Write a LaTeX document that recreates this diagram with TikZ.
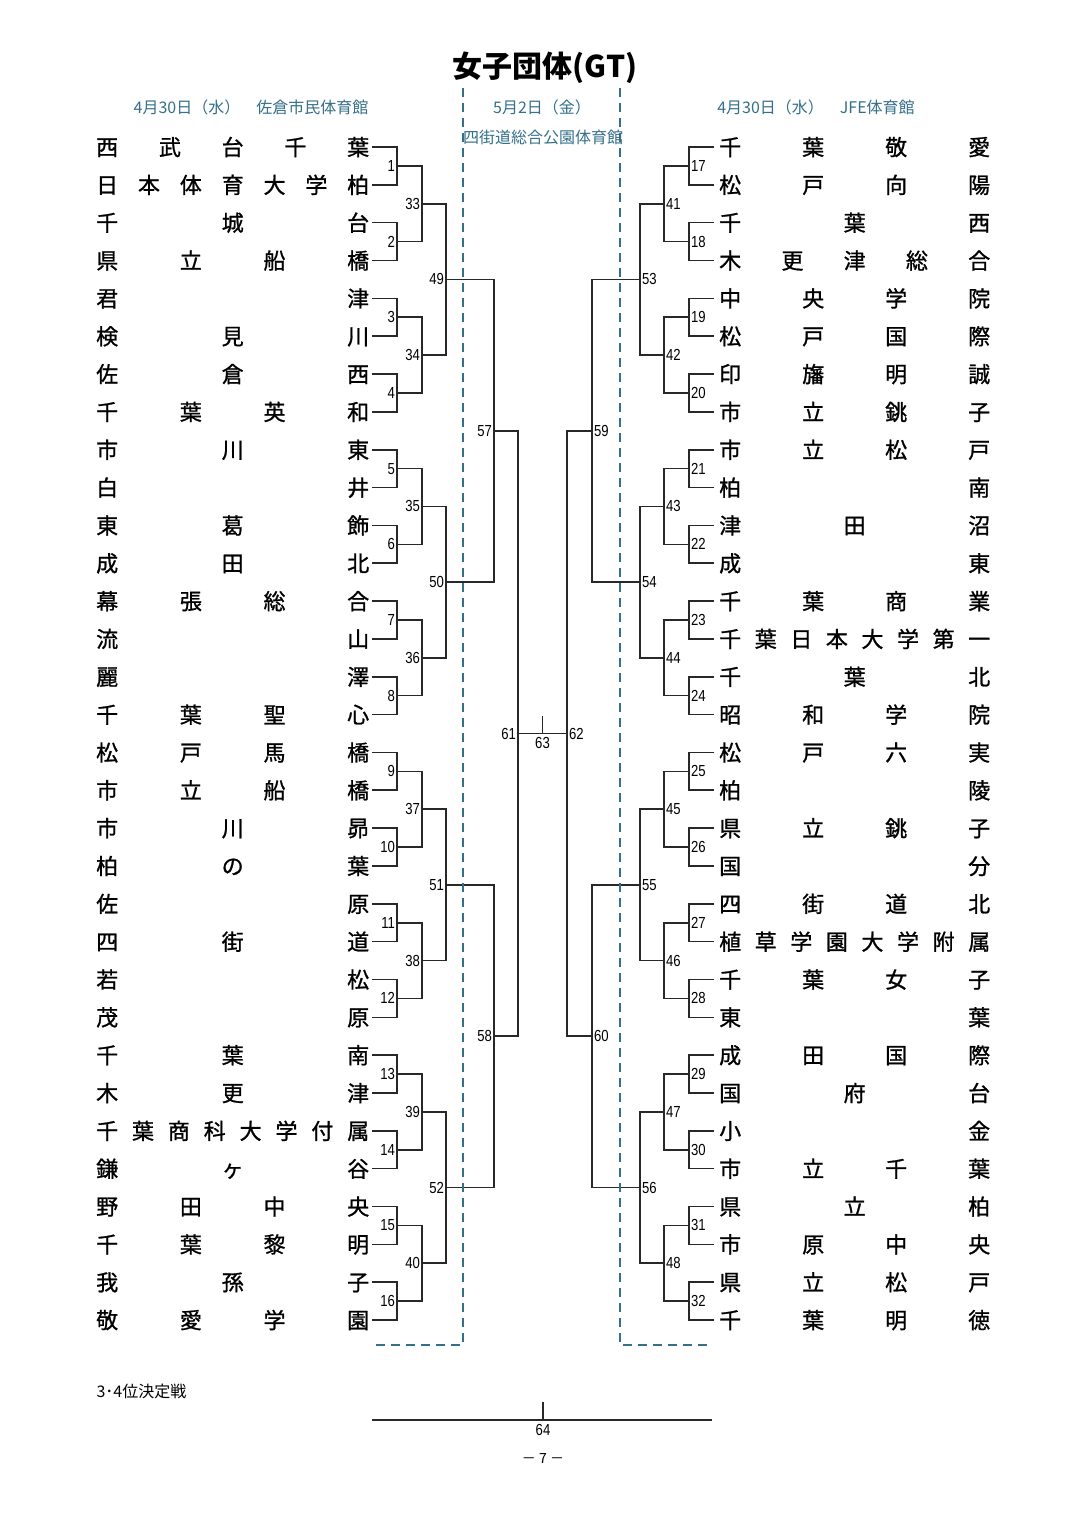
\documentclass[tikz,border=0pt]{standalone}
\usepackage{fontspec}
\setmainfont{Noto Sans CJK JP}
\newfontfamily\teamfont{Noto Sans CJK JP}[FakeBold=1]
\newfontfamily\numfont{Liberation Sans}[FakeStretch=0.82]
\usetikzlibrary{calc}

\definecolor{venue}{RGB}{52,112,138}
\definecolor{bracket}{RGB}{40,40,40}

\tikzset{
  team/.style={inner sep=0pt, anchor=west, text height=19.4pt, text depth=2.6pt,
               font=\teamfont\fontsize{22}{22}\selectfont},
  num/.style={inner sep=1.8pt, font=\numfont\fontsize{16}{16}\selectfont},
  venuetext/.style={text=venue, inner sep=0pt, font=\fontsize{16}{16}\selectfont},
  link/.style={draw=bracket, line width=1.6pt},
  period/.style={draw=venue, line width=2.3pt, dash pattern=on 9pt off 6pt},
}

% one team name, spread over the whole name column
\newcommand\teamrow[2]{\makebox[#1][s]{\spaceskip=0pt plus 1fil\xspaceskip=0pt plus 1fil\relax #2}}

% one round of the draw: first, last, first child, x step, label side
\newcommand\bracketround[5]{%
  \foreach \k [evaluate=\k as \lo using {int(#3+2*(\k-#1))}] in {#1,...,#2} {
    \pgfmathtruncatemacro\hi{\lo+1}
    \coordinate (m\k) at ($(m\lo)!.5!(m\hi)+(#4,0)$);
    \draw[link] (m\lo) -| (m\k) |- (m\hi);
    \node[num, anchor=#5] (n\k) at (m\k) {\k};
  }}

\begin{document}
\begin{tikzpicture}[x=1pt, y=-1pt]
  \useasboundingbox[fill=white] (0,0) rectangle (1087,1536);

  \node[font=\bfseries\fontsize{30}{30}\selectfont] (title) at (545,68) {女子団体(GT)};
  \node[venuetext] (dayL)  at (251,107) {4月30日（水）　佐倉市民体育館};
  \node[venuetext] (dayC)  at (542,107) {5月2日（金）};
  \node[venuetext] (hallC) at (543,137) {四街道総合公園体育館};
  \node[venuetext] (dayR)  at (816,107) {4月30日（水）　JFE体育館};

  % left half
  \foreach \nm [count=\i] in {西 武 台 千 葉, 日 本 体 育 大 学 柏, 千 城 台, 県 立 船 橋,
      君 津, 検 見 川, 佐 倉 西, 千 葉 英 和, 市 川 東, 白 井, 東 葛 飾, 成 田 北,
      幕 張 総 合, 流 山, 麗 澤, 千 葉 聖 心, 松 戸 馬 橋, 市 立 船 橋, 市 川 昴, 柏 の 葉,
      佐 原, 四 街 道, 若 松, 茂 原, 千 葉 南, 木 更 津, 千 葉 商 科 大 学 付 属, 鎌 ヶ 谷,
      野 田 中 央, 千 葉 黎 明, 我 孫 子, 敬 愛 学 園} {
    \node[team] (lt\i) at (96,{147+(\i-1)*37.84}) {\teamrow{273pt}{\nm}};
    \coordinate (ls\i) at (372,{147+(\i-1)*37.84});
  }
  \foreach \k [evaluate=\k as \lo using {int(2*\k-1)}] in {1,...,16} {
    \pgfmathtruncatemacro\hi{\lo+1}
    \coordinate (m\k) at ($(ls\lo)!.5!(ls\hi)+(25,0)$);
    \draw[link] (ls\lo) -| (m\k) |- (ls\hi);
    \node[num, anchor=east] (n\k) at (m\k) {\k};
  }
  \bracketround{33}{40}{1}{25}{east}
  \bracketround{49}{52}{33}{24}{east}
  \bracketround{57}{58}{49}{48}{east}
  \bracketround{61}{61}{57}{24}{east}

  % right half
  \foreach \nm [count=\i] in {千 葉 敬 愛, 松 戸 向 陽, 千 葉 西, 木 更 津 総 合,
      中 央 学 院, 松 戸 国 際, 印 旛 明 誠, 市 立 銚 子, 市 立 松 戸, 柏 南, 津 田 沼, 成 東,
      千 葉 商 業, 千 葉 日 本 大 学 第 一, 千 葉 北, 昭 和 学 院, 松 戸 六 実, 柏 陵,
      県 立 銚 子, 国 分, 四 街 道 北, 植 草 学 園 大 学 附 属, 千 葉 女 子, 東 葉,
      成 田 国 際, 国 府 台, 小 金, 市 立 千 葉, 県 立 柏, 市 原 中 央, 県 立 松 戸, 千 葉 明 徳} {
    \node[team] (rt\i) at (719,{147+(\i-1)*37.84}) {\teamrow{271pt}{\nm}};
    \coordinate (rs\i) at (714,{147+(\i-1)*37.84});
  }
  \foreach \k [evaluate=\k as \lo using {int(2*\k-33)}] in {17,...,32} {
    \pgfmathtruncatemacro\hi{\lo+1}
    \coordinate (m\k) at ($(rs\lo)!.5!(rs\hi)+(-25,0)$);
    \draw[link] (rs\lo) -| (m\k) |- (rs\hi);
    \node[num, anchor=west] (n\k) at (m\k) {\k};
  }
  \bracketround{41}{48}{17}{-25}{west}
  \bracketround{53}{56}{41}{-24}{west}
  \bracketround{59}{60}{53}{-48}{west}
  \bracketround{62}{62}{59}{-25}{west}

  % final
  \draw[link] (m61) -- (m62);
  \coordinate (m63) at ($(m61)!.5!(m62)$);
  \draw[link] (m63) -- ++(0,-18);
  \node[num, below=2pt] (n63) at (m63) {63};

  % second day
  \coordinate (pl1) at (463,88);
  \coordinate (pl2) at (463,1345);
  \coordinate (pl3) at (372,1345);
  \coordinate (pr1) at (620,88);
  \coordinate (pr2) at (620,1345);
  \coordinate (pr3) at (712,1345);
  \draw[period] (pl1) -- (pl2) -- (pl3);
  \draw[period] (pr1) -- (pr2) -- (pr3);

  % third place
  \node[anchor=west, font=\fontsize{16}{16}\selectfont] (third) at (93,1391) {3･4位決定戦};
  \coordinate (b1) at (372,1420);
  \coordinate (b2) at (712,1420);
  \coordinate (m64) at (543,1420);
  \draw[link] (b1) -- (b2);
  \draw[link] (m64) -- ++(0,-18);
  \node[num, below=2pt] (n64) at (m64) {64};
  \node[font=\fontsize{14}{14}\selectfont] (page) at (543,1458) {－ 7 －};
\end{tikzpicture}
\end{document}
